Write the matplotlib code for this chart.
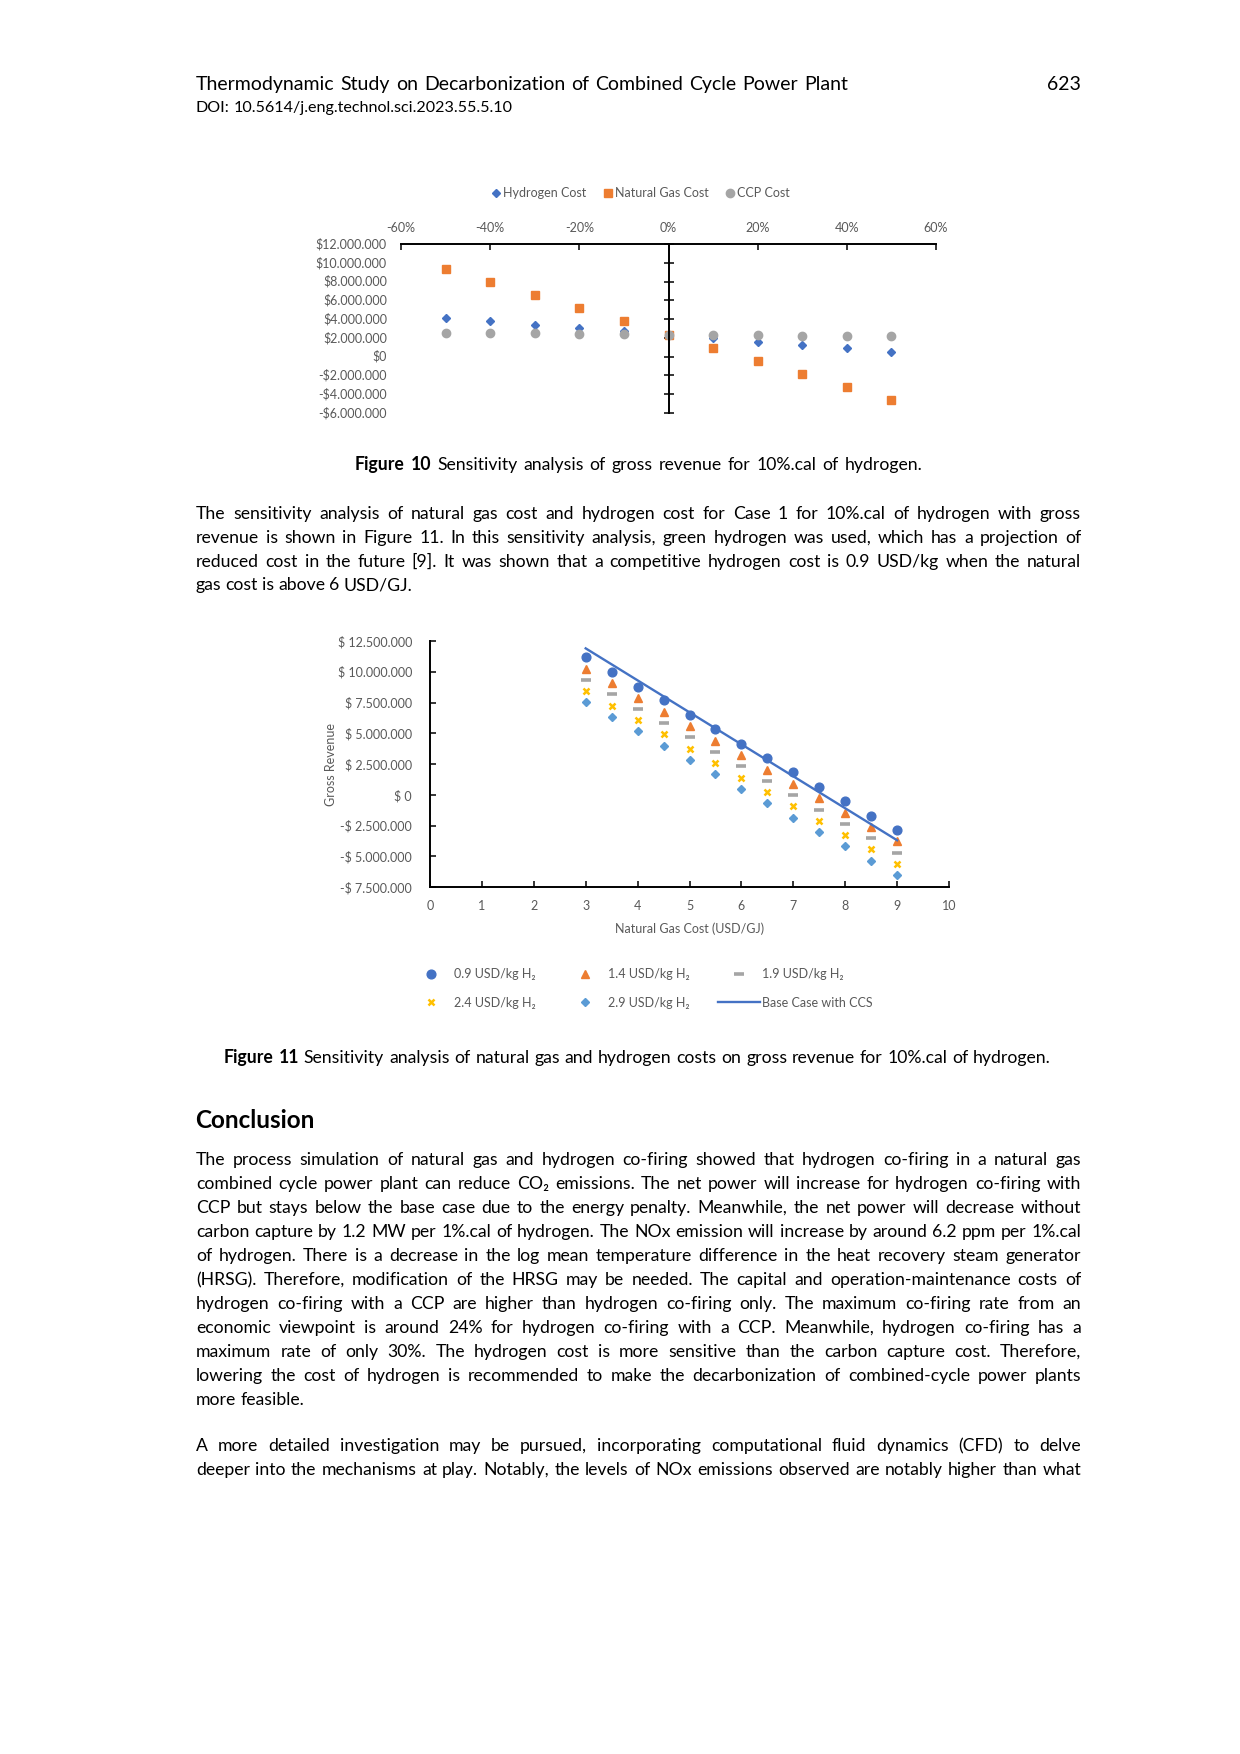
import matplotlib
matplotlib.use('Agg')
import matplotlib.pyplot as plt
import numpy as np

# --- Page geometry (pixels of the 1240x1754 page) ---
W, H = 1240, 1754
FONT = ['Lato', 'DejaVu Sans']
GREY_TXT = '#595959'
BODY = 12.7

# --- Figure 10 data: change in cost vs gross revenue (million USD) ---
pct_change = [-50, -40, -30, -20, -10, 0, 10, 20, 30, 40, 50]
hydrogen_cost = [4.10, 3.75, 3.40, 3.05, 2.70, 2.35, 1.95, 1.60, 1.25, 0.95, 0.55]
natural_gas_cost = [9.30, 7.95, 6.55, 5.15, 3.75, 2.35, 0.95, -0.50, -1.85, -3.25, -4.65]
ccp_cost = [2.55, 2.55, 2.50, 2.45, 2.40, 2.35, 2.35, 2.30, 2.25, 2.20, 2.15]

# --- Figure 11 data: natural gas cost (USD/GJ) vs gross revenue (million USD) ---
ng_cost = [3, 3.5, 4, 4.5, 5, 5.5, 6, 6.5, 7, 7.5, 8, 8.5, 9]
rev_h2_09 = [11.20, 10.00, 8.80, 7.68, 6.50, 5.35, 4.15, 3.00, 1.85, 0.65, -0.50, -1.70, -2.85]
rev_h2_14 = [10.26, 9.10, 7.90, 6.73, 5.56, 4.40, 3.23, 2.04, 0.90, -0.30, -1.47, -2.63, -3.80]
rev_h2_19 = [9.36, 8.17, 7.00, 5.83, 4.67, 3.50, 2.33, 1.14, 0.00, -1.20, -2.36, -3.53, -4.70]
rev_h2_24 = [8.44, 7.25, 6.08, 4.90, 3.75, 2.58, 1.38, 0.22, -0.95, -2.12, -3.28, -4.45, -5.64]
rev_h2_29 = [7.52, 6.35, 5.16, 4.00, 2.82, 1.66, 0.49, -0.68, -1.85, -3.00, -4.20, -5.37, -6.54]
rev_base_ccs = [11.90, 10.60, 9.30, 8.00, 6.70, 5.40, 4.10, 2.80, 1.50, 0.20, -1.10, -2.40, -3.70]

# --- Page text ---
header_title = 'Thermodynamic Study on Decarbonization of Combined Cycle Power Plant'
header_doi = 'DOI: 10.5614/j.eng.technol.sci.2023.55.5.10'
page_no = '623'
caption_10 = ('Figure 10', 'Sensitivity analysis of gross revenue for 10%.cal of hydrogen.')
caption_11 = ('Figure 11', 'Sensitivity analysis of natural gas and hydrogen costs on gross revenue for 10%.cal of hydrogen.')
para_1 = [
    'The sensitivity analysis of natural gas cost and hydrogen cost for Case 1 for 10%.cal of hydrogen with gross',
    'revenue is shown in Figure 11. In this sensitivity analysis, green hydrogen was used, which has a projection of',
    'reduced cost in the future [9]. It was shown that a competitive hydrogen cost is 0.9 USD/kg when the natural',
    'gas cost is above 6 USD/GJ.',
]
conclusion_title = 'Conclusion'
para_conclusion = [
    'The process simulation of natural gas and hydrogen co-firing showed that hydrogen co-firing in a natural gas',
    'combined cycle power plant can reduce CO\u2082 emissions. The net power will increase for hydrogen co-firing with',
    'CCP but stays below the base case due to the energy penalty. Meanwhile, the net power will decrease without',
    'carbon capture by 1.2 MW per 1%.cal of hydrogen. The NOx emission will increase by around 6.2 ppm per 1%.cal',
    'of hydrogen. There is a decrease in the log mean temperature difference in the heat recovery steam generator',
    '(HRSG). Therefore, modification of the HRSG may be needed. The capital and operation-maintenance costs of',
    'hydrogen co-firing with a CCP are higher than hydrogen co-firing only. The maximum co-firing rate from an',
    'economic viewpoint is around 24% for hydrogen co-firing with a CCP. Meanwhile, hydrogen co-firing has a',
    'maximum rate of only 30%. The hydrogen cost is more sensitive than the carbon capture cost. Therefore,',
    'lowering the cost of hydrogen is recommended to make the decarbonization of combined-cycle power plants',
    'more feasible.',
]
para_2 = [
    'A more detailed investigation may be pursued, incorporating computational fluid dynamics (CFD) to delve',
    'deeper into the mechanisms at play. Notably, the levels of NOx emissions observed are notably higher than what',
]

plt.rcParams['font.family'] = FONT
fig = plt.figure(figsize=(W / 100, H / 100), dpi=100)
renderer = fig.canvas.get_renderer()


def fx(px):
    return px / W


def fy(py):
    return 1 - py / H


def axes_rect(left, top, right, bottom):
    return [fx(left), fy(bottom), (right - left) / W, (bottom - top) / H]


def place_words(pieces, x0, x1, base, mode='justify', size=BODY):
    # pieces: list of (word, weight); mode: justify / left / center
    objs = []
    for word, weight in pieces:
        objs.append(fig.text(fx(x0), fy(base), word, fontsize=size, fontweight=weight,
                             va='baseline', ha='left', color='black'))
    widths = [t.get_window_extent(renderer).width for t in objs]
    space = 0.23 * size * 100 / 72
    if mode == 'justify' and len(objs) > 1:
        gap = (x1 - x0 - sum(widths)) / (len(objs) - 1)
        start = x0
    else:
        gap = space
        total = sum(widths) + gap * (len(objs) - 1)
        start = x0 if mode == 'left' else (x0 + x1) / 2 - total / 2
    x = start
    for t, w in zip(objs, widths):
        t.set_x(fx(x))
        x += w + gap


def paragraph(lines, x0, x1, base0, step, size=BODY, last_justified=False):
    for i, line in enumerate(lines):
        words = [(w, 'normal') for w in line.split(' ')]
        last = (i == len(lines) - 1) and not last_justified
        place_words(words, x0, x1, base0 + i * step, 'left' if last else 'justify', size)


def caption(cap, x0, x1, base, size=BODY):
    label, rest = cap
    pieces = [(w, 'bold') for w in label.split(' ')] + [(w, 'normal') for w in rest.split(' ')]
    place_words(pieces, x0, x1, base, 'justify', size)


def money_label(v, space=''):
    sign = '-' if v < 0 else ''
    return f"{sign}${space}{abs(v):,.0f}".replace(',', '.')


# --- Header ---
place_words([(w, 'normal') for w in header_title.split(' ')], 196, 848, 90, 'justify', 14)
place_words([(w, 'normal') for w in header_doi.split(' ')], 196, 511, 112, 'left', 11.6)
fig.text(fx(1081), fy(90), page_no, fontsize=14, ha='right', va='baseline')

# --- Figure 10 ---
ax1 = fig.add_axes(axes_rect(401, 244, 936, 413))
m = 1e6
ax1.plot(pct_change, np.array(hydrogen_cost) * m, 'D', color='#4472C4', ms=4.3, label='Hydrogen Cost')
ax1.plot(pct_change, np.array(natural_gas_cost) * m, 's', color='#ED7D31', ms=5.5, label='Natural Gas Cost')
ax1.plot(pct_change, np.array(ccp_cost) * m, 'o', color='#A5A5A5', ms=6, label='CCP Cost')
ax1.set_xlim(-60, 60)
ax1.set_ylim(-6e6, 12e6)
x10_ticks = np.arange(-60, 61, 20)
ax1.set_xticks(x10_ticks)
ax1.set_xticklabels([f"{t:.0f}%" for t in x10_ticks])
ax1.xaxis.tick_top()
ax1.tick_params(axis='x', direction='in', length=4, width=1.1, color='black',
                labelsize=9, labelcolor=GREY_TXT, pad=7.5)
for s in ['right', 'bottom']:
    ax1.spines[s].set_visible(False)
ax1.spines['top'].set_linewidth(1.4)
ax1.spines['left'].set_position(('data', 0))
ax1.spines['left'].set_linewidth(1.4)
y10_ticks = np.arange(-6e6, 12.1e6, 2e6)
ax1.set_yticks(y10_ticks)
ax1.tick_params(axis='y', direction='inout', length=7, width=1.1, color='black', labelleft=False)
for t in y10_ticks:
    ax1.text(-14 / 535, t, money_label(t), transform=ax1.get_yaxis_transform(),
             ha='right', va='center', fontsize=9, color=GREY_TXT)
ax1.legend(loc='center', bbox_to_anchor=(fx(641), fy(193)), bbox_transform=fig.transFigure,
           ncol=3, frameon=False, fontsize=9, handlelength=0.6, handletextpad=0.25,
           columnspacing=1.4, labelcolor=GREY_TXT, borderpad=0, borderaxespad=0)

caption(caption_10, 355, 922, 470)

# --- Paragraph after figure 10 ---
paragraph(para_1, 196, 1081, 519, 23.8)

# --- Figure 11 ---
ax2 = fig.add_axes(axes_rect(430, 641, 949, 887))
h_09, = ax2.plot(ng_cost, np.array(rev_h2_09) * m, 'o', color='#4472C4', ms=6.3, label='0.9 USD/kg H\u2082')
h_14, = ax2.plot(ng_cost, np.array(rev_h2_14) * m, '^', color='#ED7D31', ms=6, label='1.4 USD/kg H\u2082')
h_19, = ax2.plot(ng_cost, np.array(rev_h2_19) * m, '_', color='#A5A5A5', ms=6.5, mew=2.6, label='1.9 USD/kg H\u2082')
h_24, = ax2.plot(ng_cost, np.array(rev_h2_24) * m, 'x', color='#FFC000', ms=5, mew=1.8, label='2.4 USD/kg H\u2082')
h_29, = ax2.plot(ng_cost, np.array(rev_h2_29) * m, 'D', color='#5B9BD5', ms=4.3, label='2.9 USD/kg H\u2082')
h_base, = ax2.plot(ng_cost, np.array(rev_base_ccs) * m, '-', color='#4472C4', lw=1.7, label='Base Case with CCS')
ax2.set_xlim(0, 10)
ax2.set_ylim(-7.5e6, 12.5e6)
ax2.set_xticks(range(0, 11))
y11_ticks = np.arange(-7.5e6, 12.6e6, 2.5e6)
ax2.set_yticks(y11_ticks)
ax2.set_yticklabels([money_label(t, ' ') for t in y11_ticks])
for s in ['right', 'top']:
    ax2.spines[s].set_visible(False)
for s in ['left', 'bottom']:
    ax2.spines[s].set_linewidth(1.4)
ax2.tick_params(direction='in', length=4, width=1.1, color='black', labelsize=9,
                labelcolor=GREY_TXT)
ax2.tick_params(axis='x', pad=9)
ax2.tick_params(axis='y', pad=13)
ax2.set_xlabel('Natural Gas Cost (USD/GJ)', fontsize=9, color=GREY_TXT, labelpad=8)
fig.text(fx(331), fy(764), 'Gross Revenue', rotation=90, fontsize=9, color=GREY_TXT,
         ha='center', va='center')
order = [h_09, h_24, h_14, h_29, h_19, h_base]
ax2.legend(handles=order, labels=[h.get_label() for h in order], loc='upper left',
           bbox_to_anchor=(fx(410), fy(968)), bbox_transform=fig.transFigure,
           ncol=3, frameon=False, fontsize=9, handlelength=3.3, handletextpad=0.2,
           columnspacing=2.3, labelcolor=GREY_TXT, borderpad=0, borderaxespad=0,
           labelspacing=1.35)

caption(caption_11, 224, 1051, 1063)

# --- Conclusion ---
fig.text(fx(195), fy(1128), conclusion_title, fontsize=17.5, fontweight='bold', va='baseline')
paragraph(para_conclusion, 196, 1081, 1165, 24.0)
paragraph(para_2, 196, 1081, 1451, 23.8, last_justified=True)

fig.savefig('out.png', dpi=100)
